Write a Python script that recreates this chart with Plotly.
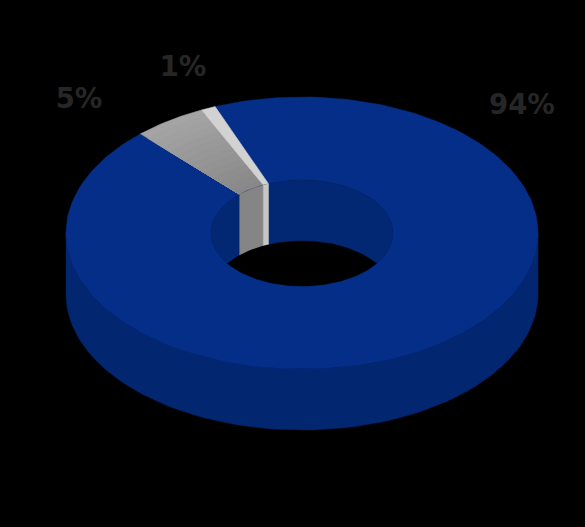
import numpy as np
import plotly.graph_objects as go

# 3D donut drawn as filled polygons, angles come from the shares

labels = ["94%", "5%", "1%"]
shares = [94, 5, 1]
label_x = [522, 79, 183]
label_y = [107, 101, 69]

top_colors = ["#052e88", None, "#d2d2d2"]
wall_colors = ["#032873", "#858585", "#c6c6c6"]
side_color = "#032670"
grey_light = (164, 164, 164)
grey_dark = (136, 136, 136)

# geometry of the projected ring (pixels)
cx, cy = 302, 233
rx, ry = 236, 136
hole_rx, hole_ry = 91, 53
depth = 61
start_deg = -21.6  # blue starts just left of 12 o'clock


def arc(a0, a1, a_rx, a_ry, dy=0, n=80):
    t = np.radians(np.linspace(a0, a1, n))
    return cx + a_rx * np.sin(t), cy + dy - a_ry * np.cos(t)


def poly(fig, x, y, color, width=0.5):
    fig.add_trace(go.Scatter(
        x=np.append(x, x[0]), y=np.append(y, y[0]),
        mode="lines", fill="toself", fillcolor=color,
        line=dict(color=color, width=width),
        hoverinfo="skip", showlegend=False
    ))


def band(fig, a0, a1, color, f=0.0, n=200):
    # ring sector from fraction f of the way in, down to the hole
    ox, oy = arc(a0, a1, rx + (hole_rx - rx) * f, ry + (hole_ry - ry) * f, n=n)
    ix, iy = arc(a1, a0, hole_rx, hole_ry, n=n)
    poly(fig, np.concatenate([ox, ix]), np.concatenate([oy, iy]), color)


fig = go.Figure()

# outer side wall
ox, oy = arc(90, 270, rx, ry)
bx, by = arc(270, 90, rx, ry, dy=depth)
poly(fig, np.concatenate([ox, bx]), np.concatenate([oy, by]), side_color)

# top face of each slice
edges = start_deg + np.cumsum([0] + shares) * 3.6
for i, (a0, a1) in enumerate(zip(edges[:-1], edges[1:])):
    if top_colors[i] is not None:
        band(fig, a0, a1, top_colors[i])
    else:
        # grey slice fades from light at the rim to dark at the hole
        rings = 14
        for j in range(rings):
            f = j / (rings - 1)
            rgb = [round(p + (q - p) * f) for p, q in zip(grey_light, grey_dark)]
            band(fig, a0, a1, "rgb(%d,%d,%d)" % tuple(rgb), f=f * 0.95, n=20)

# inside of the hole
hx, hy = arc(0, 360, hole_rx, hole_ry, n=200)
poly(fig, hx, hy, wall_colors[0])
for i in [1, 2]:
    a0, a1 = edges[i], edges[i + 1]
    tx, ty = arc(a0, a1, hole_rx, hole_ry, n=20)
    dx, dy = arc(a1, a0, hole_rx, hole_ry, dy=depth, n=20)
    poly(fig, np.concatenate([tx, dx]), np.concatenate([ty, dy]), wall_colors[i])

# see-through part of the hole
half = np.degrees(np.arccos(-depth / 2 / hole_ry))
ux, uy = arc(half, 360 - half, hole_rx, hole_ry, n=80)
half2 = np.degrees(np.arccos(depth / 2 / hole_ry))
lx, ly = arc(360 - half2, 360 + half2, hole_rx, hole_ry, dy=depth, n=80)
poly(fig, np.concatenate([ux, lx]), np.concatenate([uy, ly]), "#000000")

fig.add_trace(go.Scatter(
    x=label_x, y=label_y, text=labels, mode="text",
    textfont=dict(family="DejaVu Sans", size=27.5, color="#262626", weight="bold"),
    textposition="middle center", hoverinfo="skip", showlegend=False
))

fig.update_layout(
    width=585, height=527,
    margin=dict(l=0, r=0, t=0, b=0),
    paper_bgcolor="#000000", plot_bgcolor="#000000",
    xaxis=dict(range=[0, 585], visible=False),
    yaxis=dict(range=[527, 0], visible=False)
)

fig.write_html("out.html", config={"displayModeBar": False},
               post_script="document.body.style.margin='0';document.body.style.background='#000';")
